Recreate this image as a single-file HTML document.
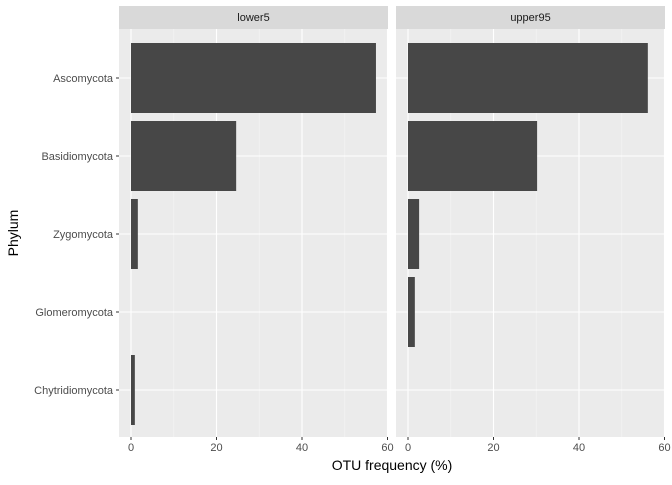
<!DOCTYPE html>
<html><head><meta charset="utf-8"><style>
body{margin:0;background:#fff;font-family:"Liberation Sans",sans-serif}
</style></head><body>
<svg id="c" width="672" height="480" xmlns="http://www.w3.org/2000/svg"></svg>
<script>
const categories=["Ascomycota","Basidiomycota","Zygomycota","Glomeromycota","Chytridiomycota"];
const panels=["lower5","upper95"];
const lower5=[57.3,24.6,1.6,0,0.9];
const upper95=[56.1,30.2,2.6,1.6,0];
const xTicks=[0,20,40,60];
const series=[lower5,upper95];
const NS="http://www.w3.org/2000/svg";
const svg=document.getElementById('c');
function mk(t,a,p){const e=document.createElementNS(NS,t);for(const k in a)e.setAttribute(k,a[k]);(p||svg).appendChild(e);return e;}
const plotTop=29,plotBot=437;
const panelX=[[119,388],[396,665]];
const zeroX=[131,408];
const pxPer=85.5/20;
function xs(p,v){return zeroX[p]+v*pxPer;}
function ys(i){return 78+i*78;}
panelX.forEach((px,p)=>{
  const g=mk('g',{});
  
  
  const s=mk('rect',{x:px[0],y:6,width:px[1]-px[0],height:23,fill:'#d9d9d9'},g);
  
  
  const st=mk('text',{x:(px[0]+px[1])/2,y:21,'text-anchor':'middle','font-size':'11',fill:'#1a1a1a'},g);
  st.textContent=panels[p];
  
  
  mk('rect',{x:px[0],y:plotTop,width:px[1]-px[0],height:plotBot-plotTop,fill:'#ebebeb'},g);
  for(let k=0;k<xTicks.length-1;k++){const m=xs(p,(xTicks[k]+xTicks[k+1])/2);mk('line',{x1:m,x2:m,y1:plotTop,y2:plotBot,stroke:'#f5f5f5','stroke-width':0.6},g);}
  xTicks.forEach(t=>{const x=xs(p,t);if(x<=px[1]+1)mk('line',{x1:x,x2:x,y1:plotTop,y2:plotBot,stroke:'#fff','stroke-width':1.1},g);
    mk('line',{x1:x,x2:x,y1:plotBot,y2:plotBot+3,stroke:'#333'},g);
    const tl=mk('text',{x:x,y:plotBot+14,'text-anchor':'middle','font-size':'11',fill:'#4d4d4d'},g);tl.textContent=t;
    
    });
  categories.forEach((c,i)=>{mk('line',{x1:px[0],x2:px[1],y1:ys(i),y2:ys(i),stroke:'#fff','stroke-width':1.1},g);});
  categories.forEach((c,i)=>{const v=series[p][i];if(v>0){const b=mk('rect',{x:xs(p,0),y:ys(i)-35,width:xs(p,v)-xs(p,0),height:70,fill:'#474747'},g);
    
    }});
});
categories.forEach((c,i)=>{mk('line',{x1:116,x2:119,y1:ys(i),y2:ys(i),stroke:'#333'});
  const t=mk('text',{x:113,y:ys(i)+4,'text-anchor':'end','font-size':'11',fill:'#4d4d4d'});t.textContent=c;
  
  });
const xt=mk('text',{x:392,y:470,'text-anchor':'middle','font-size':'14',fill:'#000'});xt.textContent='OTU frequency (%)';


const yt=mk('text',{x:18,y:233,'text-anchor':'middle','font-size':'14',fill:'#000',transform:'rotate(-90 18 233)'});yt.textContent='Phylum';


</script>
</body></html>
